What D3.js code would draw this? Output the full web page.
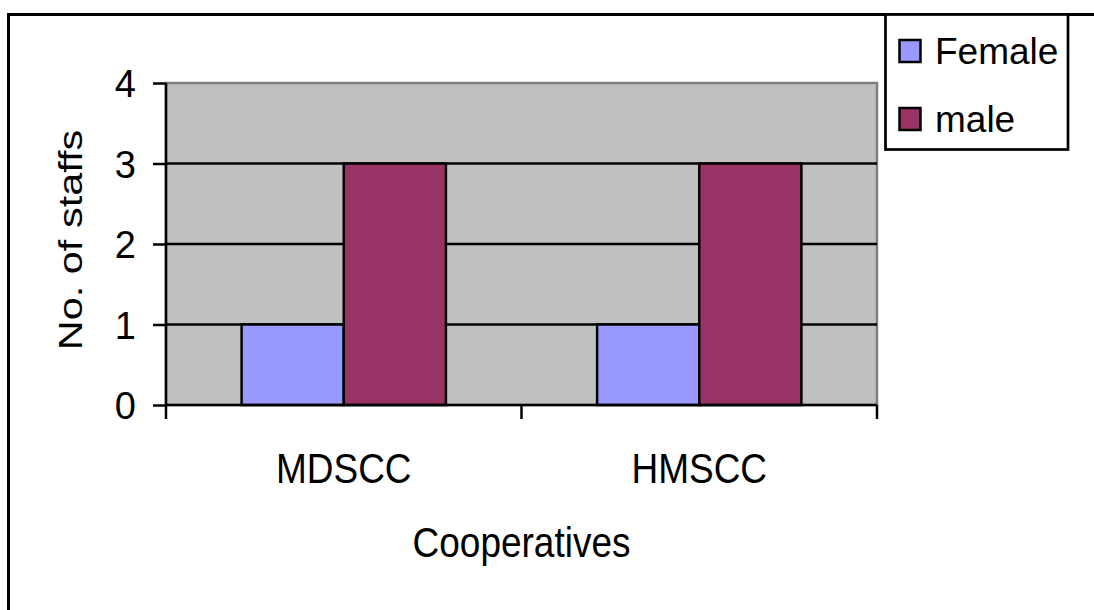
<!DOCTYPE html>
<html>
<head>
<meta charset="utf-8">
<script src="https://cdn.jsdelivr.net/npm/d3@7"></script>
<style>
  html, body { margin: 0; padding: 0; background: #fff; }
  svg { display: block; }
  text { font-family: "Liberation Sans", Arial, sans-serif; fill: #000; }
</style>
</head>
<body>
<svg id="chart" width="1094" height="610"></svg>
<script>
const categories = ["MDSCC", "HMSCC"];
const series = ["Female", "male"];
const femaleValues = [1, 1];
const maleValues = [3, 3];
const yTicks = [0, 1, 2, 3, 4];
const colors = ["#9999FF", "#993366"];
const xTitle = "Cooperatives";
const yTitle = "No. of staffs";

const valuesBySeries = [femaleValues, maleValues];
const svg = d3.select("#chart");

// outer frame
svg.append("rect").attr("x", 8.5).attr("y", 14.5).attr("width", 1200).attr("height", 700)
  .attr("fill", "#fff").attr("stroke", "#000").attr("stroke-width", 3);

const plot = { left: 166, right: 877, top: 83, bottom: 405 };

const x0 = d3.scaleBand().domain(categories).range([plot.left, plot.right]).padding(0);
const x1 = d3.scaleBand().domain(series).range([0, x0.bandwidth()]).paddingInner(0).paddingOuter(0.74);
const y = d3.scaleLinear().domain([0, 4]).range([plot.bottom, plot.top]);

// plot background
svg.append("rect").attr("x", plot.left).attr("y", plot.top)
  .attr("width", plot.right - plot.left).attr("height", plot.bottom - plot.top)
  .attr("fill", "#C0C0C0").attr("stroke", "#808080").attr("stroke-width", 2.5);

// gridlines
svg.append("g").selectAll("line").data(yTicks.filter(d => d > 0 && d < 4)).join("line")
  .attr("x1", plot.left).attr("x2", plot.right)
  .attr("y1", d => y(d)).attr("y2", d => y(d))
  .attr("stroke", "#000").attr("stroke-width", 2.5);

// bars
const rows = categories.map((c, i) => ({ cat: c, vals: series.map((s, j) => ({ s, j, v: valuesBySeries[j][i] })) }));
svg.append("g").selectAll("g").data(rows).join("g")
  .attr("transform", d => `translate(${x0(d.cat)},0)`)
  .selectAll("rect").data(d => d.vals).join("rect")
  .attr("x", d => x1(d.s)).attr("width", x1.bandwidth())
  .attr("y", d => y(d.v)).attr("height", d => y(0) - y(d.v))
  .attr("fill", d => colors[d.j]).attr("stroke", "#000").attr("stroke-width", 2.5);

// y axis
const yAxis = d3.axisLeft(y).tickValues(yTicks).tickSize(13).tickPadding(17).tickFormat(d3.format("d"));
const gy = svg.append("g").attr("transform", `translate(${plot.left},0)`).call(yAxis);
gy.select(".domain").attr("stroke", "#000").attr("stroke-width", 2.5).attr("d", `M0,${plot.top}V${plot.bottom}`);
gy.selectAll(".tick line").attr("stroke", "#000").attr("stroke-width", 2.5);
gy.selectAll(".tick text").style("font-family", "Liberation Sans, Arial, sans-serif")
  .style("font-size", "38px").attr("fill", "#000").attr("dy", "0.36em");

// x axis ticks (category boundaries)
const xEdges = [plot.left].concat(categories.map(c => x0(c) + x0.bandwidth()));
svg.append("line").attr("x1", plot.left).attr("x2", plot.right).attr("y1", plot.bottom).attr("y2", plot.bottom)
  .attr("stroke", "#000").attr("stroke-width", 2.5);
svg.append("g").selectAll("line").data(xEdges).join("line")
  .attr("x1", d => d).attr("x2", d => d).attr("y1", plot.bottom).attr("y2", plot.bottom + 14)
  .attr("stroke", "#000").attr("stroke-width", 2.5);

// category labels
svg.append("g").selectAll("text").data(categories).join("text")
  .attr("transform", d => `translate(${x0(d) + x0.bandwidth() / 2},483) scale(1,1.15)`)
  .attr("text-anchor", "middle").style("font-size", "37px").text(d => d);

// axis titles
svg.append("text").attr("transform", `translate(${(plot.left + plot.right) / 2},557) scale(1,1.15)`)
  .attr("text-anchor", "middle").style("font-size", "37px").text(xTitle);
svg.append("text").attr("transform", `translate(82,240) rotate(-90) scale(1.22,1)`)
  .attr("text-anchor", "middle").style("font-size", "34px").text(yTitle);

// legend
const lg = svg.append("g");
lg.append("rect").attr("x", 885.5).attr("y", 14.5).attr("width", 182.5).attr("height", 135)
  .attr("fill", "#fff").attr("stroke", "#000").attr("stroke-width", 2.7);
const items = lg.selectAll("g").data(series).join("g")
  .attr("transform", (d, i) => `translate(0,${i * 68})`);
items.append("rect").attr("x", 899.5).attr("y", 40).attr("width", 21).attr("height", 22)
  .attr("fill", (d, i) => colors[i]).attr("stroke", "#000").attr("stroke-width", 2.5);
items.append("text").attr("x", 935).attr("y", 64).style("font-size", "37px").text(d => d);
</script>
</body>
</html>
